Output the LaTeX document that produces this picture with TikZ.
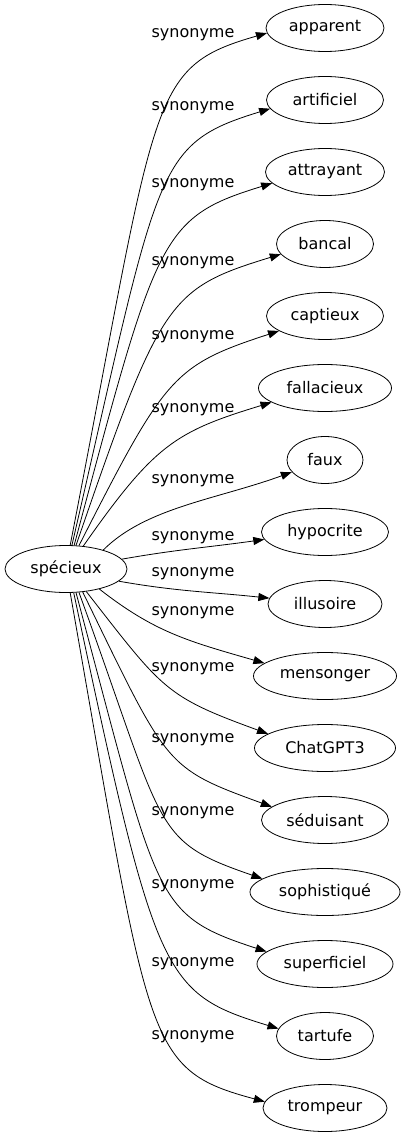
\documentclass[tikz,border=0pt]{standalone}
\usepackage{fontspec}
\setmainfont{DejaVu Sans}
\usetikzlibrary{shapes.geometric,arrows.meta}

\begin{document}
\begin{tikzpicture}
    [
        x=1pt, y=1pt,
        >={Triangle[length=11pt,width=8pt]},
        vertex/.style={ellipse, draw, line width=0.8pt, inner sep=1pt, minimum height=47pt, font=\fontsize{16}{19}\selectfont},
        rel/.style={inner sep=0pt, font=\fontsize{16}{19}\selectfont},
        syn/.style={->, line width=0.8pt},
    ]
    \useasboundingbox (0,0) rectangle (405,-1139);

    % source
    \node (specieux) at (66,-569) [vertex, minimum width=122pt] {spécieux};

    % synonyms
    \node (apparent)    at (325,-28)   [vertex, minimum width=118pt] {apparent};
    \node (artificiel)  at (325,-100)  [vertex, minimum width=117pt] {artificiel};
    \node (attrayant)   at (325,-172)  [vertex, minimum width=119pt] {attrayant};
    \node (bancal)      at (325,-244)  [vertex, minimum width=97pt]  {bancal};
    \node (captieux)    at (325,-316)  [vertex, minimum width=117pt] {captieux};
    \node (fallacieux)  at (325,-388)  [vertex, minimum width=133pt] {fallacieux};
    \node (faux)        at (325,-460)  [vertex, minimum width=76pt]  {faux};
    \node (hypocrite)   at (325,-532)  [vertex, minimum width=127pt] {hypocrite};
    \node (illusoire)   at (325,-604)  [vertex, minimum width=114pt] {illusoire};
    \node (mensonger)   at (325,-676)  [vertex, minimum width=143pt] {mensonger};
    \node (chatgpt)     at (325,-748)  [vertex, minimum width=141pt] {ChatGPT3};
    \node (seduisant)   at (325,-820)  [vertex, minimum width=127pt] {séduisant};
    \node (sophistique) at (325,-892)  [vertex, minimum width=150pt] {sophistiqué};
    \node (superficiel) at (325,-964)  [vertex, minimum width=136pt] {superficiel};
    \node (tartufe)     at (325,-1036) [vertex, minimum width=97pt]  {tartufe};
    \node (trompeur)    at (325,-1108) [vertex, minimum width=124pt] {trompeur};

    % labels
    \node (l1)  at (193,-35)   [rel] {synonyme};
    \node (l2)  at (193,-108)  [rel] {synonyme};
    \node (l3)  at (193,-185)  [rel] {synonyme};
    \node (l4)  at (193,-263)  [rel] {synonyme};
    \node (l5)  at (193,-337)  [rel] {synonyme};
    \node (l6)  at (193,-410)  [rel] {synonyme};
    \node (l7)  at (193,-481)  [rel] {synonyme};
    \node (l8)  at (193,-538)  [rel] {synonyme};
    \node (l9)  at (193,-574)  [rel] {synonyme};
    \node (l10) at (193,-613)  [rel] {synonyme};
    \node (l11) at (193,-669)  [rel] {synonyme};
    \node (l12) at (193,-740)  [rel] {synonyme};
    \node (l13) at (193,-813)  [rel] {synonyme};
    \node (l14) at (193,-886)  [rel] {synonyme};
    \node (l15) at (193,-964)  [rel] {synonyme};
    \node (l16) at (193,-1037) [rel] {synonyme};

    \path
    (specieux.80)  edge [syn, out=79, in=196, out distance=460pt, in distance=125pt] (apparent.185)
    (specieux.76)  edge [syn, out=77, in=197, out distance=390pt, in distance=122pt] (artificiel.189)
    (specieux.71)  edge [syn, out=75, in=197, out distance=320pt, in distance=118pt] (attrayant.192)
    (specieux.67)  edge [syn, out=71, in=197, out distance=260pt, in distance=118pt] (bancal.193)
    (specieux.61)  edge [syn, out=63, in=198, out distance=190pt, in distance=112pt] (captieux.198)
    (specieux.53)  edge [syn, out=55, in=197, out distance=125pt, in distance=100pt] (fallacieux.195)
    (specieux.27)  edge [syn, out=45, in=200, out distance=60pt, in distance=80pt] (faux.200)
    (specieux.10)  edge [syn, out=10, in=188] (hypocrite.187)
    (specieux.-13) edge [syn, out=-10, in=174] (illusoire.174)
    (specieux.-31) edge [syn, out=-38, in=164, out distance=70pt, in distance=80pt] (mensonger.168)
    (specieux.-48) edge [syn, out=-52, in=160, out distance=125pt, in distance=110pt] (chatgpt.166)
    (specieux.-54) edge [syn, out=-64, in=160, out distance=195pt, in distance=115pt] (seduisant.166)
    (specieux.-61) edge [syn, out=-70, in=161, out distance=255pt, in distance=118pt] (sophistique.168)
    (specieux.-67) edge [syn, out=-75, in=162, out distance=320pt, in distance=120pt] (superficiel.168)
    (specieux.-72) edge [syn, out=-78, in=163, out distance=395pt, in distance=122pt] (tartufe.171)
    (specieux.-80) edge [syn, out=-80, in=165, out distance=460pt, in distance=125pt] (trompeur.174);

\end{tikzpicture}
\end{document}
